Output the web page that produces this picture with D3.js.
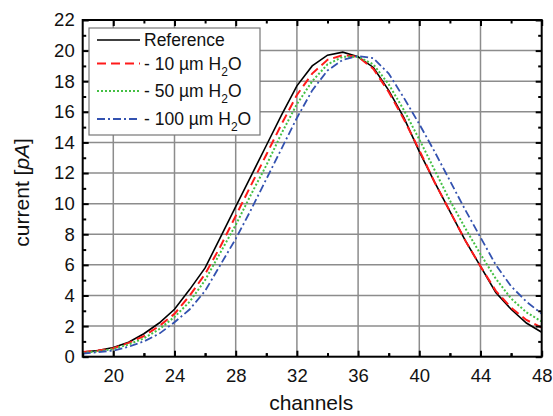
<!DOCTYPE html>
<html>
<head>
<meta charset="utf-8">
<script src="https://cdn.jsdelivr.net/npm/d3@7"></script>
<style>
  body { margin: 0; background: #fff; }
  svg { display: block; font-family: "Liberation Sans", Arial, sans-serif; }
</style>
</head>
<body>
<div id="chart"></div>
<script>
// channels 18..48
let channels = d3.range(18, 49);

let refVals   = [0.3,0.4,0.6,0.95,1.5,2.2,3.1,4.4,5.8,7.8,9.8,11.8,13.8,15.8,17.7,19.0,19.7,19.9,19.6,18.9,17.4,15.6,13.4,11.4,9.5,7.6,5.9,4.2,3.1,2.2,1.6];
let h2o10Vals = [0.3,0.4,0.55,0.9,1.35,2.0,2.8,4.0,5.4,7.2,9.2,11.2,13.2,15.2,17.1,18.5,19.4,19.7,19.6,18.8,17.3,15.5,13.5,11.4,9.5,7.6,5.9,4.3,3.2,2.4,1.9];
let h2o50Vals = [0.25,0.35,0.5,0.8,1.2,1.8,2.6,3.6,5.0,6.8,8.6,10.6,12.5,14.6,16.5,18.0,19.1,19.6,19.6,19.1,17.8,16.1,14.2,12.2,10.2,8.4,6.7,5.1,3.8,2.9,2.3];
let h2o100Vals= [0.2,0.3,0.4,0.65,1.0,1.5,2.25,3.1,4.3,6.0,7.7,9.6,11.6,13.6,15.6,17.4,18.7,19.4,19.65,19.5,18.5,16.9,15.2,13.4,11.5,9.6,7.8,6.0,4.6,3.6,2.8];

let seriesNames = ['Reference', '10', '50', '100'];
let xTickLabels = [20, 24, 28, 32, 36, 40, 44, 48];
let yTickLabels = [0, 2, 4, 6, 8, 10, 12, 14, 16, 18, 20, 22];

let W = 553, H = 416;
let margin = {left: 82.7, right: 11.3, top: 20, bottom: 59.3};
let pw = W - margin.left - margin.right, ph = H - margin.top - margin.bottom;

let styles = [
  {color: '#000000', dash: null,      width: 1.6},
  {color: '#ff1a1a', dash: '9,5',     width: 2},
  {color: '#44c044', dash: '2,2',     width: 2},
  {color: '#3352b0', dash: '8,3,2,3', width: 1.8}
];
let allVals = [refVals, h2o10Vals, h2o50Vals, h2o100Vals];

let svg = d3.select('#chart').append('svg')
  .attr('width', W).attr('height', H);

let x = d3.scaleLinear().domain([18, 48]).range([0, pw]);
let y = d3.scaleLinear().domain([0, 22]).range([ph, 0]);

let g = svg.append('g').attr('transform', 'translate(' + margin.left + ',' + margin.top + ')');

// grid
g.append('g').selectAll('line').data(d3.range(20, 48, 4))
  .enter().append('line')
  .attr('x1', d => x(d)).attr('x2', d => x(d))
  .attr('y1', 0).attr('y2', ph)
  .attr('stroke', '#8c8c8c').attr('stroke-width', 1.5);
g.append('g').selectAll('line').data(d3.range(2, 22, 2))
  .enter().append('line')
  .attr('x1', 0).attr('x2', pw)
  .attr('y1', d => y(d)).attr('y2', d => y(d))
  .attr('stroke', '#8c8c8c').attr('stroke-width', 1.5);

// curves
let line = d3.line().x((d, i) => x(channels[i])).y(d => y(d));
allVals.forEach((vals, k) => {
  g.append('path').datum(vals)
    .attr('d', line)
    .attr('fill', 'none')
    .attr('stroke', styles[k].color)
    .attr('stroke-width', styles[k].width)
    .attr('stroke-dasharray', styles[k].dash);
});

// axes with inward ticks on all sides
function tickAxis(axisFn, scale, major, minor, transform, labels) {
  let a1 = g.append('g').attr('transform', transform)
    .call(axisFn(scale).tickValues(major).tickSizeInner(-6).tickSizeOuter(0)
      .tickFormat(labels ? d3.format('d') : ''));
  a1.select('.domain').remove();
  a1.selectAll('.tick line').attr('stroke', '#000').attr('stroke-width', 2);
  a1.selectAll('.tick text').attr('font-size', '18.5px').attr('fill', '#111');
  let a2 = g.append('g').attr('transform', transform)
    .call(axisFn(scale).tickValues(minor).tickSizeInner(-3.5).tickSizeOuter(0).tickFormat(''));
  a2.select('.domain').remove();
  a2.selectAll('.tick line').attr('stroke', '#000').attr('stroke-width', 2);
  return a1;
}
let xb = tickAxis(d3.axisBottom, x, xTickLabels, d3.range(18, 48, 4).concat([22, 26, 30, 34, 38, 42, 46]).filter(d => d % 4 == 2), 'translate(0,' + ph + ')', true);
xb.selectAll('.tick text').attr('y', 12);
tickAxis(d3.axisTop, x, xTickLabels, d3.range(22, 48, 4), 'translate(0,0)', false);
let yl = tickAxis(d3.axisLeft, y, yTickLabels, d3.range(1, 22, 2), 'translate(0,0)', true);
yl.selectAll('.tick text').attr('x', -8);
tickAxis(d3.axisRight, y, yTickLabels, d3.range(1, 22, 2), 'translate(' + pw + ',0)', false);

// frame
g.append('rect').attr('x', 0).attr('y', 0).attr('width', pw).attr('height', ph)
  .attr('fill', 'none').attr('stroke', '#000').attr('stroke-width', 2);

// axis titles
svg.append('text')
  .attr('x', margin.left + pw / 2 - 1).attr('y', 410)
  .attr('text-anchor', 'middle').attr('font-size', '21px').attr('fill', '#111')
  .text('channels');
let yt = svg.append('text')
  .attr('transform', 'translate(29,' + (margin.top + ph / 2 + 4) + ') rotate(-90)')
  .attr('text-anchor', 'middle').attr('font-size', '21px').attr('fill', '#111');
yt.append('tspan').text('current [');
yt.append('tspan').attr('font-style', 'italic').text('pA');
yt.append('tspan').text(']');

// legend
let leg = svg.append('g');
leg.append('rect').attr('x', 89).attr('y', 28).attr('width', 171).attr('height', 107)
  .attr('fill', '#fff').attr('stroke', '#777').attr('stroke-width', 1.2);
let rowBase = [46, 69.5, 97, 125];
seriesNames.forEach((name, k) => {
  leg.append('line')
    .attr('x1', 97).attr('x2', 140)
    .attr('y1', rowBase[k] - 6).attr('y2', rowBase[k] - 6)
    .attr('stroke', styles[k].color)
    .attr('stroke-width', styles[k].width)
    .attr('stroke-dasharray', styles[k].dash);
  let t = leg.append('text').attr('x', 144).attr('y', rowBase[k])
    .attr('font-size', '17.5px').attr('fill', '#111');
  if (k == 0) {
    t.text(name);
  } else {
    t.append('tspan').text('- ' + name + ' \u00b5m H');
    t.append('tspan').attr('font-size', '12px').attr('dy', 6).text('2');
    t.append('tspan').attr('dy', -6).text('O');
  }
});
</script>
</body>
</html>
